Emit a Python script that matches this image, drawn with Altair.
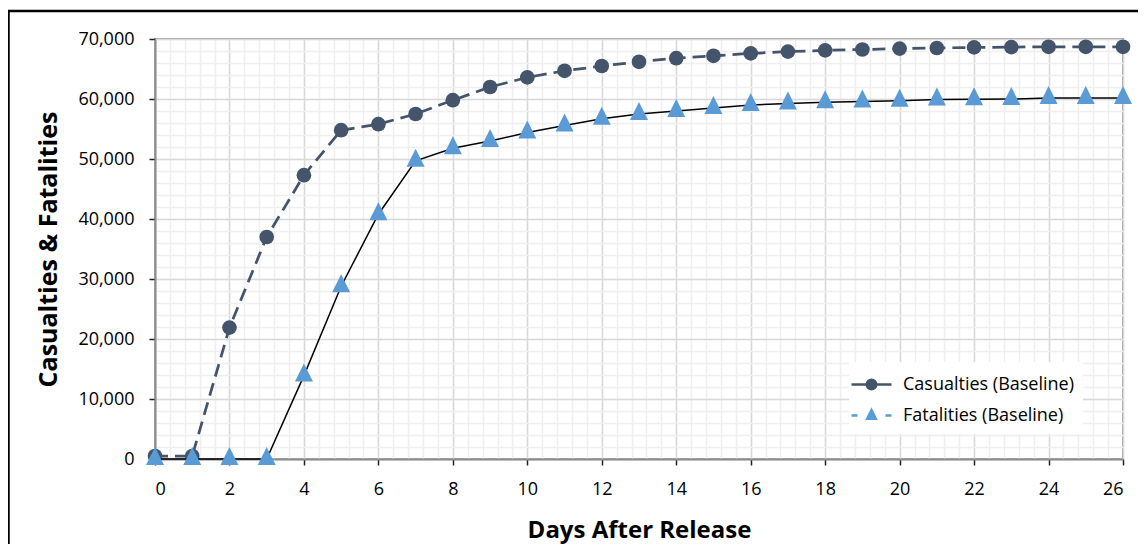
import altair as alt
import pandas as pd

# ---- data ----
days = list(range(0, 27))
casualties = [500, 500, 21900, 37000, 47300, 54800, 55800, 57500, 59800, 62000,
              63600, 64700, 65500, 66200, 66800, 67200, 67600, 67900, 68100, 68250,
              68400, 68500, 68600, 68650, 68700, 68700, 68700]
fatalities = [0, 0, 0, 0, 13900, 28800, 40800, 49700, 51800, 53000,
              54400, 55600, 56700, 57500, 58000, 58500, 59000, 59250, 59450, 59600,
              59700, 59900, 59950, 60000, 60150, 60150, 60150]
series_names = ["Casualties (Baseline)", "Fatalities (Baseline)"]
x_ticks = list(range(0, 27, 2))
y_ticks = list(range(0, 70001, 10000))
x_minor = [round(i * 0.4, 1) for i in range(0, 66)]
y_minor = list(range(0, 70001, 2000))

DARK = "#44546A"
BLUE = "#5B9BD5"
FONT = "Open Sans"

df_c = pd.DataFrame({"day": days, "value": casualties, "series": series_names[0]})
df_f = pd.DataFrame({"day": days, "value": fatalities, "series": series_names[1]})
df_all = pd.concat([df_c, df_f], ignore_index=True)

xscale = alt.Scale(domain=[0, 26], nice=False, zero=False)
yscale = alt.Scale(domain=[0, 70000], nice=False)

# triangle with its centroid at the data point
TRI = "M0,-1.333L1,0.667L-1,0.667Z"
# legend symbols: line + marker
LEG_CAS = ("M-1.667,0H1.667"
           "M0.4,0A0.4,0.4 0 1,1 -0.4,0A0.4,0.4 0 1,1 0.4,0Z")
LEG_FAT = ("M-1.667,0H-1.167M1.167,0H1.667"
           "M0,-0.45L0.36,0.28L-0.36,0.28Z")

# minor grid carried by the casualties line layer
cas_line = alt.Chart(df_c).mark_line(
    color=DARK, strokeWidth=2.75, strokeDash=[13, 7]
).encode(
    x=alt.X("day:Q", scale=xscale, axis=alt.Axis(
        orient="top", values=x_minor, grid=True, gridColor="#EFEFEF", gridWidth=1.5,
        labels=False, ticks=False, domain=False, title=None)),
    y=alt.Y("value:Q", scale=yscale, axis=alt.Axis(
        orient="right", values=y_minor, grid=True, gridColor="#EFEFEF", gridWidth=1.5,
        labels=False, ticks=False, domain=False, title=None)),
)

# major grid + real axes carried by the casualties points layer
cas_pts = alt.Chart(df_c).mark_point(
    filled=True, shape="circle", size=215, color=DARK, opacity=1
).encode(
    x=alt.X("day:Q", scale=xscale, axis=alt.Axis(
        orient="bottom", values=x_ticks, grid=True, gridColor="#D9D9D9", gridWidth=1.5,
        domainColor="#8C8C8C", domainWidth=2, tickColor="#222222", tickWidth=1.5,
        tickSize=6, labelFont=FONT, labelFontSize=18, labelColor="black",
        labelPadding=15, title="Days After Release", titleFont=FONT,
        titleFontSize=24, titleFontWeight="bold", titleColor="black",
        titlePadding=20)),
    y=alt.Y("value:Q", scale=yscale, axis=alt.Axis(
        orient="left", values=y_ticks, grid=True, gridColor="#D9D9D9", gridWidth=1.5,
        domainColor="#8C8C8C", domainWidth=2, tickColor="#222222", tickWidth=1.5,
        tickSize=6, labelFont=FONT, labelFontSize=18, labelColor="black",
        labelPadding=15, format=",d", title="Casualties & Fatalities",
        titleFont=FONT, titleFontSize=25, titleFontWeight="bold",
        titleColor="black", titlePadding=16)),
)

fat_line = alt.Chart(df_f).mark_line(color="black", strokeWidth=1.5).encode(
    x=alt.X("day:Q", scale=xscale, axis=None),
    y=alt.Y("value:Q", scale=yscale, axis=None),
)

fat_pts = alt.Chart(df_f).mark_point(
    filled=True, shape=TRI, size=324, color=BLUE, opacity=1
).encode(
    x=alt.X("day:Q", scale=xscale, axis=None),
    y=alt.Y("value:Q", scale=yscale, axis=None),
)

leg = alt.Legend(
    title=None, orient="none", legendX=694, legendY=323,
    fillColor="white", padding=9, symbolSize=576, symbolStrokeWidth=2.5,
    labelFont=FONT, labelFontSize=18, labelColor="black", labelOffset=18,
    labelLimit=500, rowPadding=7,
)

legend_layer = alt.Chart(df_all).transform_filter("datum.day < 0").mark_point(
    filled=True, opacity=1
).encode(
    x=alt.X("day:Q", scale=xscale, axis=None),
    y=alt.Y("value:Q", scale=yscale, axis=None),
    fill=alt.Fill("series:N", scale=alt.Scale(domain=series_names, range=[DARK, BLUE]), legend=leg),
    stroke=alt.Stroke("series:N", scale=alt.Scale(domain=series_names, range=[DARK, BLUE]), legend=leg),
    shape=alt.Shape("series:N", scale=alt.Scale(domain=series_names, range=[LEG_CAS, LEG_FAT]), legend=leg),
)

frame = alt.Chart(pd.DataFrame({"k": [0]})).mark_rect(
    filled=False, stroke="black", strokeWidth=2.5, clip=False
).encode(
    x=alt.value(-146.5), x2=alt.value(1300), y=alt.value(-28), y2=alt.value(800)
)

chart = alt.layer(
    cas_line, cas_pts, fat_line, fat_pts, legend_layer, frame
).resolve_axis(
    x="independent", y="independent"
).properties(
    width=968, height=420,
    padding={"left": 147, "top": 31, "right": 15, "bottom": 85},
    autosize="none",
    background="white",
).configure_view(
    stroke="#8C8C8C", strokeWidth=2
)

chart.save("out.html", embed_options={"renderer": "svg", "actions": False})
